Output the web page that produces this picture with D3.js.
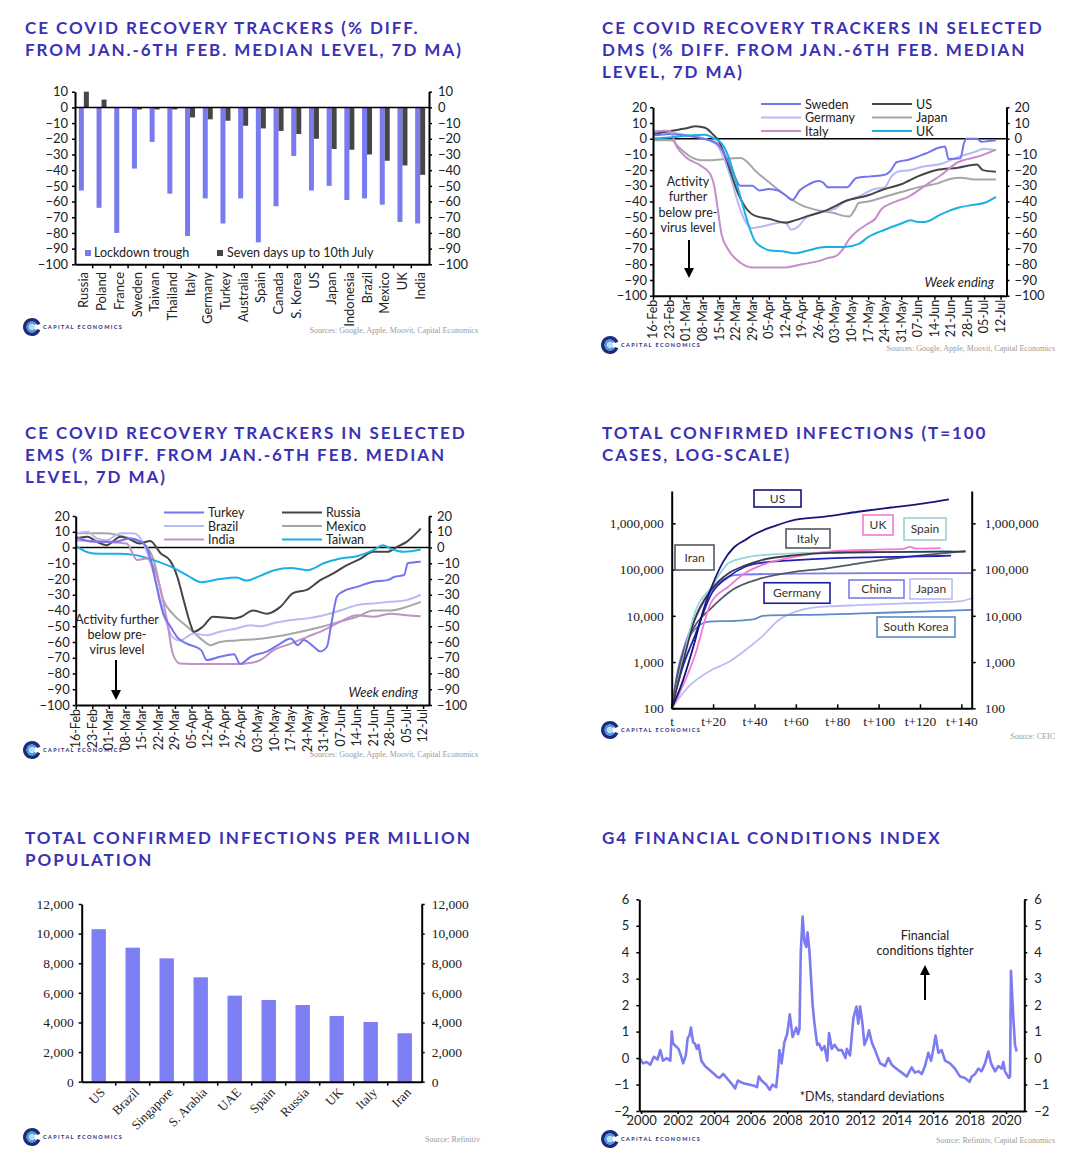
<!DOCTYPE html>
<html>
<head>
<meta charset="utf-8">
<script src="https://cdn.jsdelivr.net/npm/d3@7"></script>
<style>
  body { margin: 0; background: #fff; }
  svg { display: block; }
  .title { font-family: Lato, "Open Sans", sans-serif; font-weight: 700; font-size: 17px; letter-spacing: 1.95px; fill: #3b31b5; }
</style>
</head>
<body>
<svg id="chart" width="1078" height="1161"></svg>
<script>
// ---------- data ----------

// Chart 1: lockdown trough vs last seven days
const c1Countries = ['Russia','Poland','France','Sweden','Taiwan','Thailand','Italy','Germany','Turkey','Australia','Spain','Canada','S. Korea','US','Japan','Indonesia','Brazil','Mexico','UK','India'];
const c1Trough = [-53,-64,-80,-39,-22,-55,-82,-58,-74,-58,-86,-63,-31,-53,-50,-59,-58,-62,-73,-74];
const c1Recent = [10,5,0,-1.3,-1.3,-1.3,-6.4,-7.6,-8.5,-11.7,-13.4,-15,-17,-20,-26.5,-27,-30,-34,-37,-43];
const c1Ticks = [-100,-90,-80,-70,-60,-50,-40,-30,-20,-10,0,10];

// Charts 2 and 3: weekly axis (days since 16-Feb)
const weekLabels = ['16-Feb','23-Feb','01-Mar','08-Mar','15-Mar','22-Mar','29-Mar','05-Apr','12-Apr','19-Apr','26-Apr','03-May','10-May','17-May','24-May','31-May','07-Jun','14-Jun','21-Jun','28-Jun','05-Jul','12-Jul'];
const weekDays = [0,7,14,21,28,35,42,49,56,63,70,77,84,91,98,105,112,119,126,133,140,147];
const trackerTicks = [-100,-90,-80,-70,-60,-50,-40,-30,-20,-10,0,10,20];

// Chart 2 (DMs): [day, % diff]
const dmSweden = [[0,2],[7,3],[14,2],[21,0],[27,-3],[31,-12],[34,-22],[37,-30],[42,-30],[45,-33],[49,-32],[53,-33],[56,-36],[59,-39],[62,-33],[66,-29],[70,-27],[72,-28],[74,-31],[82,-31],[86,-25],[92,-24],[98,-23],[100.7,-20],[103,-15],[108,-13.4],[115,-9.6],[122,-5.3],[123.5,-5],[125,-13],[130,-12.5],[131.5,-3],[132.5,0],[137,0],[139,-2],[142,-1.5],[145,-1]];
const dmGermany = [[0,5],[8,4],[15,2],[22,0],[27.6,-5],[30.4,-14],[33.2,-26.5],[36,-41],[38.8,-52],[41.7,-57],[46,-56],[51.5,-54],[55.7,-53],[58.5,-58],[61.4,-56],[64.2,-51],[72.6,-46],[77,-44.6],[81,-40],[86.7,-37],[93.7,-32],[98,-31],[100.7,-24.4],[103.5,-21],[109,-20],[113.4,-18],[122,-16],[129,-11.7],[136,-8.5],[140,-6.4],[145,-7.4]];
const dmItaly = [[0,4],[4,5],[7,5],[10,-5],[14,-12],[20,-17],[24,-22],[26,-31],[27.5,-46],[29,-61],[32,-71],[37,-79],[42,-82],[49,-82],[56,-82],[63,-80],[70,-78],[74,-76],[77,-75],[80,-71],[83,-64],[85.5,-60],[91,-54],[94,-51],[96.5,-45],[101,-41],[108,-37],[115,-30],[122,-23],[129,-15],[133,-13],[139,-10.6],[145,-7]];
const dmUS = [[0,3],[8,5],[15,7],[18,8],[22,7],[25.5,2.5],[27.6,-1],[30.4,-10.6],[33,-22],[36,-35],[39,-43.5],[43,-49],[49,-51],[56,-53.5],[60,-52],[66,-49],[72.6,-46],[77,-43],[81,-40],[91,-36],[98,-32],[105,-29],[112,-24],[120,-20],[129,-18.5],[137,-16.5],[139.5,-20],[145,-21]];
const dmJapan = [[0,-1],[8,-1],[10.6,-5],[15,-10.6],[19,-13.4],[22,-13.8],[37,-12.3],[40,-15],[43,-20],[49,-27.6],[56,-36],[63,-42.5],[70,-45.7],[77,-47.5],[80,-49],[83,-49.5],[85,-46],[87,-41],[91,-40],[98,-37],[105,-34],[112,-31],[120,-28.6],[126,-25.5],[130,-24.8],[136,-26],[145,-26]];
const dmUK = [[0,0],[8,1],[15,2],[22,2.5],[26,0],[29,-3],[32,-11.7],[34.6,-24.5],[37.4,-39.3],[40.2,-54],[43,-65],[46,-69],[49,-71],[56,-72],[60,-73],[66,-71],[72.6,-69],[81,-69],[87,-67],[91,-62.7],[98,-58],[105,-54],[109,-52],[112,-53],[115,-53],[122,-48],[129,-44],[136,-42],[140,-41],[145,-37]];

// Chart 3 (EMs): [day, % diff]
const emTurkey = [[0,6.8],[7.5,3.6],[16,3.6],[23,5.7],[28.7,2.5],[31.5,-6],[34,-23],[37,-42],[40,-50],[43,-57],[47,-61],[53,-65],[55.5,-71.5],[61,-69.4],[67,-67.7],[69.6,-74],[74,-69.4],[81,-66],[86.6,-61],[91,-57.8],[94,-62],[96.5,-58.8],[100.7,-63],[103.5,-66],[106.3,-63],[108,-50],[110.6,-31],[113,-28],[119,-25],[126,-21.8],[132,-20.7],[135,-18.6],[139,-17.5],[140.5,-10],[146,-9]];
const emBrazil = [[0,9],[5,10],[9,5.7],[13,4.6],[19,9],[24.4,9],[28.7,2.5],[33,-16.5],[37,-40],[41,-57],[44,-59],[50,-54.6],[55.5,-55.7],[61,-53.5],[68,-51.4],[74,-49.3],[78,-50],[84,-48],[91,-46],[98,-45],[105,-43],[112,-40],[119,-36.6],[126,-35.5],[133,-34.5],[140,-33.4],[146,-30]];
const emIndia = [[0,4.6],[12,3.6],[21.6,2.5],[26,-8],[30,-7],[34,-16.5],[38.6,-46],[41,-67],[44,-73.6],[54,-74],[67,-74],[75,-73],[78,-71.5],[84,-65],[91,-61],[98,-56.7],[105,-52.5],[112,-47],[119,-43],[126,-44],[133,-42],[140,-43],[146,-43.6]];
const emRussia = [[0,5.7],[5,6.8],[9,3.6],[13,1.5],[19,6.8],[23,5],[27,2.5],[31.5,4.2],[36,-3.8],[40,-8.5],[43,-18.6],[45.6,-33],[48.4,-48],[50,-53.5],[54,-50],[58,-44],[67,-45],[70,-44],[75,-40],[81,-42],[86.6,-37.7],[92,-29],[98,-26.7],[103.5,-20.7],[109,-16.5],[115,-11],[120,-7.6],[126,-2.7],[132,-2.7],[136,0.4],[140,3.6],[146,12]];
const emMexico = [[0,9],[12,9],[23,5.7],[28.7,2.5],[33,-8],[37,-33],[41,-42],[47,-50],[53,-58],[57,-62],[61,-60],[68,-59],[78,-58],[84,-56.7],[98,-52.5],[105,-50],[112,-47],[119,-44],[126,-40],[133,-40],[140,-37.7],[146,-34.5]];
const emTaiwan = [[0,1],[5,-3],[10,-4],[19,-4],[26,-5],[33,-8],[40,-12],[47,-17.5],[53,-22],[61,-20],[68,-19],[72,-21],[78,-18],[84,-14.4],[91,-13],[98,-14.4],[105,-10],[112,-7],[119,-5.5],[126,-1.7],[130,1.5],[133,-0.6],[139,-2.7],[146,-1.3]];

// Chart 4: cumulative confirmed cases, [days since 100th case, cases]
const casesUS = [[0,100],[5,350],[11,2600],[15,12000],[19.4,43000],[25,150000],[30,300000],[35.5,436000],[40,580000],[50,880000],[60,1200000],[74,1400000],[90,1780000],[106,2200000],[122,2700000],[134,3300000]];
const casesItaly = [[0,100],[5,800],[11,8000],[19,36000],[27.5,83000],[35,120000],[43.5,160000],[60,205000],[76,230000],[100,238000],[120,242000],[142,245000]];
const casesIran = [[0,100],[3,580],[6.4,2100],[11,5800],[19,14500],[30,38000],[43.5,65000],[60,90000],[74,105000],[90,135000],[106,170000],[122,205000],[142,250000]];
const casesSpain = [[0,100],[5,900],[11,11000],[19.4,43000],[27.5,138000],[35,180000],[43.5,205000],[60,225000],[80,235000],[110,240000],[135,250000]];
const casesUK = [[0,100],[3,180],[11,1300],[19,19000],[27.5,43000],[35.5,84000],[43.5,125000],[60,190000],[76,245000],[100,270000],[112,280000],[115,310000],[118,285000],[130,290000]];
const casesGermany = [[0,100],[5,700],[11,3500],[19.4,31000],[27.5,70000],[35.5,115000],[43.5,140000],[60,160000],[76,175000],[100,185000],[120,192000],[135,200000]];
const casesChina = [[0,100],[3,680],[6,2100],[11,8000],[16,22000],[22.5,51000],[27.5,70000],[32,77000],[60,82000],[100,83500],[145,84000]];
const casesJapan = [[0,100],[8,290],[19.4,680],[27.5,1000],[35.5,1800],[43.5,3500],[51.6,8000],[60,12300],[68,15000],[76,16000],[90,17000],[114,18700],[139,20500],[145,24000]];
const casesKorea = [[0,100],[4,600],[8,3000],[13,6000],[18,7500],[30,7800],[40,8500],[44,10000],[76,10700],[92,11300],[120,12300],[145,13400]];
const c4YTicks = [100, 1000, 10000, 100000, 1000000];
const c4XTicks = [0, 20, 40, 60, 80, 100, 120, 140];

// Chart 5: infections per million
const c5Countries = ['US','Brazil','Singapore','S. Arabia','UAE','Spain','Russia','UK','Italy','Iran'];
const c5Values = [10300, 9050, 8330, 7050, 5810, 5520, 5180, 4440, 4030, 3270];
const c5Ticks = [0, 2000, 4000, 6000, 8000, 10000, 12000];

// Chart 6: G4 financial conditions index, [year, std devs]
const fciData = [[1999.92,0.0],[2000.1,-0.2],[2000.3,-0.15],[2000.5,-0.25],[2000.7,0.05],[2000.9,-0.05],[2001.05,0.3],[2001.2,-0.1],[2001.4,0.0],[2001.6,-0.1],[2001.68,1.0],[2001.75,0.55],[2001.9,0.45],[2002.05,0.35],[2002.2,0.05],[2002.3,-0.2],[2002.45,0.1],[2002.55,0.75],[2002.65,0.85],[2002.73,1.15],[2002.85,0.6],[2002.95,0.55],[2003.05,0.35],[2003.15,0.5],[2003.3,-0.1],[2003.5,-0.3],[2003.75,-0.45],[2004.0,-0.6],[2004.15,-0.7],[2004.3,-0.75],[2004.5,-0.6],[2004.75,-0.8],[2005.0,-1.0],[2005.15,-1.15],[2005.3,-0.85],[2005.6,-0.95],[2005.9,-1.0],[2006.2,-1.05],[2006.35,-1.1],[2006.45,-0.7],[2006.6,-0.85],[2006.85,-1.0],[2007.05,-1.2],[2007.2,-1.0],[2007.4,-1.1],[2007.5,-0.45],[2007.58,0.3],[2007.7,-0.2],[2007.85,0.6],[2008.0,0.9],[2008.15,1.65],[2008.3,0.8],[2008.5,1.15],[2008.6,0.9],[2008.68,1.1],[2008.75,4.0],[2008.85,5.35],[2008.95,4.4],[2009.05,4.2],[2009.12,4.75],[2009.22,4.1],[2009.4,2.0],[2009.5,1.3],[2009.65,0.5],[2009.75,0.55],[2009.9,0.3],[2010.05,0.45],[2010.2,-0.1],[2010.3,0.95],[2010.45,0.35],[2010.6,0.5],[2010.8,0.3],[2011.0,0.3],[2011.2,0.0],[2011.27,0.35],[2011.45,0.1],[2011.63,1.5],[2011.8,1.95],[2011.9,1.3],[2012.0,1.95],[2012.13,1.3],[2012.24,0.5],[2012.36,0.7],[2012.49,1.05],[2012.64,0.6],[2012.82,0.3],[2013.1,-0.2],[2013.37,-0.3],[2013.55,0.0],[2013.73,-0.25],[2014.0,-0.4],[2014.28,-0.55],[2014.55,-0.7],[2014.83,-0.35],[2015.0,-0.55],[2015.2,-0.5],[2015.38,-0.6],[2015.56,-0.3],[2015.74,0.2],[2015.89,-0.1],[2016.02,0.35],[2016.14,0.85],[2016.29,0.2],[2016.47,0.3],[2016.66,-0.1],[2016.93,-0.2],[2017.2,-0.4],[2017.48,-0.7],[2017.75,-0.75],[2018.0,-0.9],[2018.12,-0.7],[2018.3,-0.6],[2018.48,-0.4],[2018.66,-0.5],[2018.85,-0.2],[2019.03,0.25],[2019.18,-0.2],[2019.4,-0.5],[2019.58,-0.3],[2019.76,-0.4],[2019.85,-0.15],[2019.94,-0.5],[2020.15,-0.75],[2020.22,-0.7],[2020.27,3.3],[2020.4,1.5],[2020.49,0.5],[2020.58,0.25]];
const c6YTicks = [-2, -1, 0, 1, 2, 3, 4, 5, 6];
const c6XTicks = [2000, 2002, 2004, 2006, 2008, 2010, 2012, 2014, 2016, 2018, 2020];

// ---------- helpers ----------
const SANS = 'Lato, "Open Sans", sans-serif';
const SERIF = '"Liberation Serif", "Times New Roman", serif';
const svg = d3.select('#chart');
svg.append('rect').attr('width', 1078).attr('height', 1161).attr('fill', '#fff');

function title(x, y, lines) {
    lines.forEach((t, i) => svg.append('text').attr('class', 'title')
        .attr('x', x).attr('y', y + i * 22).text(t));
}

function styleAxis(g, font, size) {
    g.attr('font-family', font).attr('font-size', size);
    g.select('.domain').attr('stroke', '#000').attr('stroke-width', 2);
    g.selectAll('.tick line').attr('stroke', '#000').attr('stroke-width', 1.5);
    g.selectAll('.tick text').attr('fill', '#222');
    return g;
}

function logo(cx, cy) {
    const g = svg.append('g').attr('transform', `translate(${cx},${cy})`);
    const arc = d3.arc();
    g.append('path').attr('d', arc({innerRadius: 5.5, outerRadius: 9, startAngle: 0.62 * Math.PI, endAngle: 2.38 * Math.PI})).attr('fill', '#1f2b7a');
    g.append('path').attr('d', arc({innerRadius: 3, outerRadius: 5.5, startAngle: 0.7 * Math.PI, endAngle: 2.3 * Math.PI})).attr('fill', '#4f95dd');
    g.append('circle').attr('r', 3).attr('fill', '#b9dcf4');
    g.append('text').attr('x', 11).attr('y', 2).text('CAPITAL ECONOMICS')
        .attr('font-family', SANS).attr('font-weight', 700).attr('font-size', 5.5)
        .attr('letter-spacing', 1.4).attr('fill', '#1f2b7a');
}

function source(x, y, t) {
    svg.append('text').attr('x', x).attr('y', y).attr('text-anchor', 'end')
        .attr('font-family', SERIF).attr('font-size', 8).attr('fill', '#9a9a9a').text(t);
}

function note(g, x, y, lines, gap, size) {
    lines.forEach((t, i) => g.append('text').attr('x', x).attr('y', y + i * gap)
        .attr('text-anchor', 'middle').attr('font-family', SANS).attr('font-size', size || 12.5)
        .attr('fill', '#222').text(t));
}

function arrow(g, x, yFrom, yTo) {
    const dir = yTo > yFrom ? 1 : -1;
    g.append('line').attr('x1', x).attr('x2', x).attr('y1', yFrom).attr('y2', yTo - dir * 8)
        .attr('stroke', '#000').attr('stroke-width', 2);
    g.append('path').attr('d', `M${x - 5},${yTo - dir * 10}L${x + 5},${yTo - dir * 10}L${x},${yTo}Z`).attr('fill', '#000');
}

// ---------- Chart 1 ----------
title(25, 34, ['CE COVID RECOVERY TRACKERS (% DIFF.', 'FROM JAN.-6TH FEB. MEDIAN LEVEL, 7D MA)']);
(function () {
    const left = 75, right = 429;
    const x = d3.scaleBand().domain(c1Countries).range([left, right]);
    const y = d3.scaleLinear().domain([-100, 10]).range([264.3, 91.7]);
    const bw = x.bandwidth();
    const g = svg.append('g');

    g.selectAll('rect.trough').data(c1Countries).join('rect').attr('class', 'trough')
        .attr('x', d => x(d) + bw / 2 - 5).attr('width', 5)
        .attr('y', y(0)).attr('height', (d, i) => y(c1Trough[i]) - y(0))
        .attr('fill', '#7b7bf0');
    g.selectAll('rect.recent').data(c1Countries).join('rect').attr('class', 'recent')
        .attr('x', d => x(d) + bw / 2).attr('width', 5)
        .attr('y', (d, i) => y(Math.max(0, c1Recent[i])))
        .attr('height', (d, i) => Math.abs(y(c1Recent[i]) - y(0)))
        .attr('fill', '#464646');

    g.append('line').attr('x1', left).attr('x2', right).attr('y1', y(0)).attr('y2', y(0))
        .attr('stroke', '#000').attr('stroke-width', 1.5);

    styleAxis(g.append('g').attr('transform', `translate(${left},0)`)
        .call(d3.axisLeft(y).tickValues(c1Ticks).tickSize(3).tickPadding(4).tickSizeOuter(0)), SANS, 13);
    styleAxis(g.append('g').attr('transform', `translate(${right},0)`)
        .call(d3.axisRight(y).tickValues(c1Ticks).tickSize(3).tickPadding(6).tickSizeOuter(0)), SANS, 13);
    styleAxis(g.append('g').attr('transform', `translate(0,${y(-100)})`)
        .call(d3.axisBottom(x).tickValues([]).tickSizeOuter(0)), SANS, 13);

    g.selectAll('line.sep').data(c1Countries.slice(1)).join('line').attr('class', 'sep')
        .attr('x1', d => x(d)).attr('x2', d => x(d))
        .attr('y1', y(-100)).attr('y2', y(-100) + 4).attr('stroke', '#000').attr('stroke-width', 1.5);

    g.selectAll('text.cat').data(c1Countries).join('text').attr('class', 'cat')
        .attr('transform', d => `translate(${x(d) + bw / 2},272) rotate(-90)`)
        .attr('text-anchor', 'end').attr('dy', '0.35em')
        .attr('font-family', SANS).attr('font-size', 13).attr('fill', '#222').text(d => d);

    // legend
    g.append('rect').attr('x', 85).attr('y', 250).attr('width', 6).attr('height', 6).attr('fill', '#7b7bf0');
    g.append('text').attr('x', 94).attr('y', 257).attr('font-family', SANS).attr('font-size', 12.5).attr('fill', '#222').text('Lockdown trough');
    g.append('rect').attr('x', 217).attr('y', 250).attr('width', 6).attr('height', 6).attr('fill', '#464646');
    g.append('text').attr('x', 227).attr('y', 257).attr('font-family', SANS).attr('font-size', 12.5).attr('fill', '#222').text('Seven days up to 10th July');
})();
logo(32, 327);
source(478, 333, 'Sources: Google, Apple, Moovit, Capital Economics');

// ---------- Charts 2 & 3 ----------
function tracker(cfg) {
    const x = d3.scaleLinear().domain([0, 149.5]).range([cfg.left, cfg.right]);
    const y = d3.scaleLinear().domain([-100, 20]).range([cfg.bottom, cfg.top]);
    const g = svg.append('g');
    const line = d3.line().x(d => x(d[0])).y(d => y(d[1])).curve(d3.curveMonotoneX);

    g.append('line').attr('x1', cfg.left).attr('x2', cfg.right).attr('y1', y(0)).attr('y2', y(0))
        .attr('stroke', '#000').attr('stroke-width', 1.5);

    cfg.drawOrder.forEach(i => {
        const s = cfg.series[i];
        g.append('path').datum(s.data).attr('d', line).attr('fill', 'none')
            .attr('stroke', s.color).attr('stroke-width', 2);
    });

    styleAxis(g.append('g').attr('transform', `translate(${cfg.left},0)`)
        .call(d3.axisLeft(y).tickValues(trackerTicks).tickSize(3).tickPadding(3).tickSizeOuter(0)), SANS, 13);
    styleAxis(g.append('g').attr('transform', `translate(${cfg.right},0)`)
        .call(d3.axisRight(y).tickValues(trackerTicks).tickSize(3).tickPadding(5).tickSizeOuter(0)), SANS, 13);
    styleAxis(g.append('g').attr('transform', `translate(0,${cfg.bottom})`)
        .call(d3.axisBottom(x).tickValues(weekDays).tickSize(4).tickFormat('').tickSizeOuter(0)), SANS, 13);

    g.selectAll('text.wk').data(weekLabels).join('text').attr('class', 'wk')
        .attr('transform', (d, i) => `translate(${x(weekDays[i])},${cfg.bottom + 4}) rotate(-90)`)
        .attr('text-anchor', 'end').attr('dy', '0.35em')
        .attr('font-family', SANS).attr('font-size', 12.5).attr('fill', '#222').text(d => d);

    // legend, two columns of three
    cfg.series.forEach((s, i) => {
        const col = i < 3 ? cfg.legendCols[0] : cfg.legendCols[1];
        const ly = cfg.legendY + (i % 3) * 13.5;
        g.append('line').attr('x1', col).attr('x2', col + 40).attr('y1', ly).attr('y2', ly)
            .attr('stroke', s.color).attr('stroke-width', 2);
        g.append('text').attr('x', col + 44).attr('y', ly + 4.5).attr('font-family', SANS)
            .attr('font-size', 12.5).attr('fill', '#222').text(s.name);
    });

    g.append('text').attr('x', cfg.weekX).attr('y', cfg.weekY).attr('text-anchor', 'end')
        .attr('font-family', SANS).attr('font-style', 'italic').attr('font-size', 13)
        .attr('fill', '#222').text('Week ending');
    return g;
}

title(602, 34, ['CE COVID RECOVERY TRACKERS IN SELECTED', 'DMS (% DIFF. FROM JAN.-6TH FEB. MEDIAN', 'LEVEL, 7D MA)']);
const g2 = tracker({
    left: 653, right: 1006.5, top: 107.3, bottom: 295.7,
    series: [
        {name: 'Sweden', color: '#7474ec', data: dmSweden},
        {name: 'Germany', color: '#b9b9f4', data: dmGermany},
        {name: 'Italy', color: '#c58dca', data: dmItaly},
        {name: 'US', color: '#454545', data: dmUS},
        {name: 'Japan', color: '#a6a6a6', data: dmJapan},
        {name: 'UK', color: '#18b0e6', data: dmUK}
    ],
    drawOrder: [4, 1, 3, 0, 2, 5],
    legendCols: [761, 872], legendY: 104,
    weekX: 994, weekY: 287
});
note(g2, 688, 186, ['Activity', 'further', 'below pre-', 'virus level'], 15.3);
arrow(g2, 689, 240, 278);
logo(610, 345);
source(1055, 351, 'Sources: Google, Apple, Moovit, Capital Economics');

title(25, 439, ['CE COVID RECOVERY TRACKERS IN SELECTED', 'EMS (% DIFF. FROM JAN.-6TH FEB. MEDIAN', 'LEVEL, 7D MA)']);
const g3 = tracker({
    left: 75.7, right: 429, top: 516, bottom: 705,
    series: [
        {name: 'Turkey', color: '#7474ec', data: emTurkey},
        {name: 'Brazil', color: '#b9b9f4', data: emBrazil},
        {name: 'India', color: '#c58dca', data: emIndia},
        {name: 'Russia', color: '#454545', data: emRussia},
        {name: 'Mexico', color: '#a6a6a6', data: emMexico},
        {name: 'Taiwan', color: '#18b0e6', data: emTaiwan}
    ],
    drawOrder: [4, 1, 3, 5, 2, 0],
    legendCols: [164, 282], legendY: 512.5,
    weekX: 418, weekY: 697
});
note(g3, 117, 624, ['Activity further', 'below pre-', 'virus level'], 15);
arrow(g3, 116, 660, 700);
logo(32, 750);
source(478, 757, 'Sources: Google, Apple, Moovit, Capital Economics');

// ---------- Chart 4 ----------
title(602, 439, ['TOTAL CONFIRMED INFECTIONS (T=100', 'CASES, LOG-SCALE)']);
(function () {
    const left = 671.7, right = 971.7, bottom = 708.3;
    const x = d3.scaleLinear().domain([0, 145]).range([left, right]);
    const y = d3.scaleLog().domain([100, 5e6]).range([bottom, 491]);
    const g = svg.append('g');
    const line = d3.line().x(d => x(d[0])).y(d => y(d[1])).curve(d3.curveMonotoneX);

    const series = [
        {name: 'Japan', color: '#bcbcf4', data: casesJapan},
        {name: 'South Korea', color: '#5b8bc8', data: casesKorea},
        {name: 'China', color: '#7a7aee', data: casesChina},
        {name: 'Iran', color: '#56566a', data: casesIran},
        {name: 'Germany', color: '#2020b4', data: casesGermany},
        {name: 'Spain', color: '#98d6d6', data: casesSpain},
        {name: 'UK', color: '#f27ad2', data: casesUK},
        {name: 'Italy', color: '#3a3a4c', data: casesItaly},
        {name: 'US', color: '#15157a', data: casesUS}
    ];
    series.forEach(s => g.append('path').datum(s.data).attr('d', line).attr('fill', 'none')
        .attr('stroke', s.color).attr('stroke-width', 1.8));

    styleAxis(g.append('g').attr('transform', `translate(${left},0)`)
        .call(d3.axisLeft(y).tickValues(c4YTicks).tickFormat(d3.format(',')).tickSize(-4).tickPadding(8).tickSizeOuter(0)), SERIF, 13.5);
    styleAxis(g.append('g').attr('transform', `translate(${right},0)`)
        .call(d3.axisRight(y).tickValues(c4YTicks).tickFormat(d3.format(',')).tickSize(4).tickPadding(9).tickSizeOuter(0)), SERIF, 13.5);
    styleAxis(g.append('g').attr('transform', `translate(0,${bottom})`)
        .call(d3.axisBottom(x).tickValues(c4XTicks).tickFormat(d => d === 0 ? 't' : 't+' + d)
            .tickSize(-4).tickPadding(8).tickSizeOuter(0)), SERIF, 13.5);

    // boxed labels: layout only
    const boxes = [
        {t: 'US', cx: 777.5, cy: 498.5, w: 47, h: 17, c: '#15157a'},
        {t: 'Italy', cx: 808, cy: 538.5, w: 44, h: 19, c: '#555560'},
        {t: 'Iran', cx: 694.5, cy: 557.5, w: 39, h: 25, c: '#555560'},
        {t: 'Germany', cx: 797, cy: 593, w: 66, h: 20.5, c: '#1c1c9c'},
        {t: 'UK', cx: 878, cy: 525, w: 30, h: 20, c: '#f27ad2'},
        {t: 'Spain', cx: 925, cy: 529, w: 42, h: 22, c: '#98d0d0'},
        {t: 'China', cx: 876.5, cy: 589, w: 55, h: 18, c: '#7a7aee'},
        {t: 'Japan', cx: 931, cy: 589, w: 42, h: 20, c: '#bcbcf4'},
        {t: 'South Korea', cx: 916, cy: 627, w: 78, h: 20, c: '#5b8bc8'}
    ];
    boxes.forEach(b => {
        g.append('rect').attr('x', b.cx - b.w / 2).attr('y', b.cy - b.h / 2)
            .attr('width', b.w).attr('height', b.h).attr('fill', '#fff')
            .attr('stroke', b.c).attr('stroke-width', 1.6);
        g.append('text').attr('x', b.cx).attr('y', b.cy + 4.3).attr('text-anchor', 'middle')
            .attr('font-family', SANS).attr('font-size', 12).attr('fill', '#333').text(b.t);
    });
})();
logo(610, 730);
source(1055, 739, 'Source: CEIC');

// ---------- Chart 5 ----------
title(25, 844, ['TOTAL CONFIRMED INFECTIONS PER MILLION', 'POPULATION']);
(function () {
    const left = 81.7, right = 421.7, bottom = 1081.7;
    const x = d3.scaleBand().domain(c5Countries).range([left, right]);
    const y = d3.scaleLinear().domain([0, 12000]).range([bottom, 904]);
    const bw = x.bandwidth();
    const g = svg.append('g');

    g.selectAll('rect.bar').data(c5Countries).join('rect').attr('class', 'bar')
        .attr('x', d => x(d) + bw / 2 - 7.2).attr('width', 14.4)
        .attr('y', (d, i) => y(c5Values[i])).attr('height', (d, i) => bottom - y(c5Values[i]))
        .attr('fill', '#7f7ff5');

    styleAxis(g.append('g').attr('transform', `translate(${left},0)`)
        .call(d3.axisLeft(y).tickValues(c5Ticks).tickFormat(d3.format(',')).tickSize(3).tickPadding(5).tickSizeOuter(0)), SERIF, 13.5);
    styleAxis(g.append('g').attr('transform', `translate(${right},0)`)
        .call(d3.axisRight(y).tickValues(c5Ticks).tickFormat(d3.format(',')).tickSize(3).tickPadding(7).tickSizeOuter(0)), SERIF, 13.5);
    styleAxis(g.append('g').attr('transform', `translate(0,${bottom})`)
        .call(d3.axisBottom(x).tickValues([]).tickSizeOuter(0)), SERIF, 13.5);

    g.selectAll('line.sep').data(c5Countries.slice(1)).join('line').attr('class', 'sep')
        .attr('x1', d => x(d)).attr('x2', d => x(d))
        .attr('y1', bottom).attr('y2', bottom + 4).attr('stroke', '#000').attr('stroke-width', 1.5);

    g.selectAll('text.cat').data(c5Countries).join('text').attr('class', 'cat')
        .attr('transform', d => `translate(${x(d) + bw / 2 + 4},1090) rotate(-45)`)
        .attr('text-anchor', 'end').attr('dy', '0.35em')
        .attr('font-family', SERIF).attr('font-size', 13).attr('fill', '#222').text(d => d);
})();
logo(32, 1137);
source(480, 1142, 'Source: Refinitiv');

// ---------- Chart 6 ----------
title(602, 844, ['G4 FINANCIAL CONDITIONS INDEX']);
(function () {
    const left = 639.3, right = 1024.3, bottom = 1111;
    const x = d3.scaleLinear().domain([1999.9, 2021.0]).range([left, right]);
    const y = d3.scaleLinear().domain([-2, 6]).range([bottom, 899.3]);
    const g = svg.append('g');

    g.append('path').datum(fciData)
        .attr('d', d3.line().x(d => x(d[0])).y(d => y(d[1])))
        .attr('fill', 'none').attr('stroke', '#7b7bf2').attr('stroke-width', 2.6)
        .attr('stroke-linejoin', 'round');

    styleAxis(g.append('g').attr('transform', `translate(${left},0)`)
        .call(d3.axisLeft(y).tickValues(c6YTicks).tickSize(3).tickPadding(7).tickSizeOuter(0)), SANS, 13);
    styleAxis(g.append('g').attr('transform', `translate(${right},0)`)
        .call(d3.axisRight(y).tickValues(c6YTicks).tickSize(3).tickPadding(7).tickSizeOuter(0)), SANS, 13);
    styleAxis(g.append('g').attr('transform', `translate(0,${bottom})`)
        .call(d3.axisBottom(x).tickValues(c6XTicks).tickFormat(d3.format('d')).tickSize(3).tickPadding(2).tickSizeOuter(0)), SANS, 13);

    note(g, 925, 940, ['Financial', 'conditions tighter'], 15, 12.5);
    arrow(g, 925, 1000, 965);
    note(g, 872, 1101, ['*DMs, standard deviations'], 15, 12.5);
})();
logo(610, 1139);
source(1055, 1143, 'Source: Refinitiv, Capital Economics');
</script>
</body>
</html>
